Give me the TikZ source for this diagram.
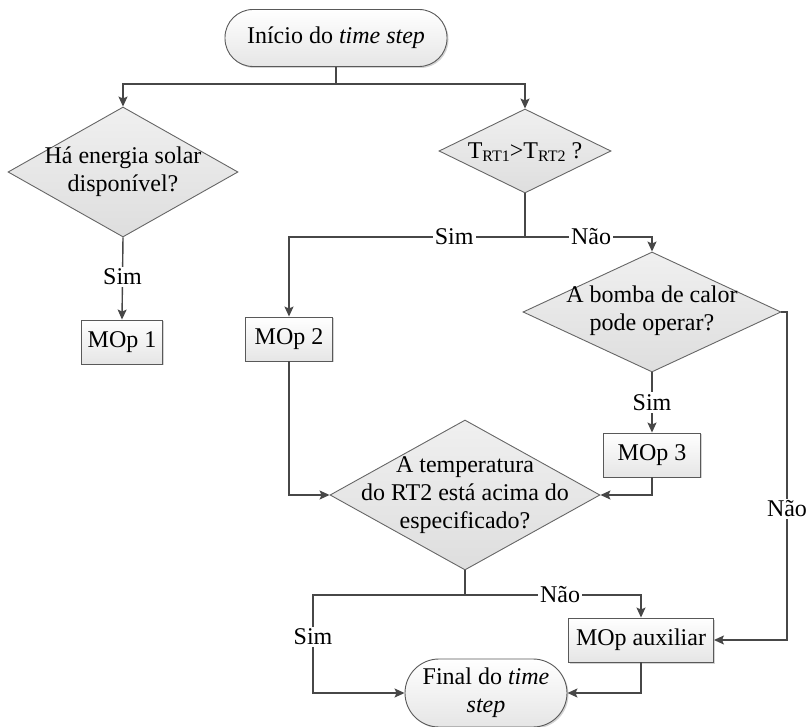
\documentclass[tikz,border=0pt]{standalone}
\usepackage{fontspec}
\setmainfont{Liberation Serif}
\usetikzlibrary{shapes.geometric,arrows.meta,shadows}
\begin{document}
\begin{tikzpicture}[x=1pt,y=-1pt,
  font=\fontsize{24}{28}\selectfont,
  line/.style={draw=black!72, line width=1.4pt},
  arr/.style={line, -{Stealth[length=10pt,width=9pt,inset=2pt]}},
  boxnode/.style={draw=black!65, line width=0.9pt, top color=white, bottom color=black!10,
    drop shadow={shadow xshift=1.5pt,shadow yshift=-1.5pt,opacity=0.35},
    minimum height=44, inner sep=0, align=center},
  dia/.style={diamond, draw=black!60, line width=0.9pt, top color=black!6, bottom color=black!13,
    inner sep=0},
  txt/.style={align=center, inner sep=0},
  lab/.style={fill=white, inner sep=2pt},
]
\useasboundingbox (0,0) rectangle (807,727);

% nodes
\node[boxnode, rounded corners=28pt, minimum width=222, minimum height=57] (start) at (336,38) {In\'icio do \textit{time step}};
\node[dia, minimum width=230, minimum height=130] (d1) at (123,172) {};
\node[txt] (d1t) at (123,172) {Há energia solar\\disponível?};
\node[dia, minimum width=172, minimum height=84] (d2) at (525,151) {};
\node[txt] (d2t) at (525,152) {T\raisebox{-0.35ex}{\fontsize{16}{16}\selectfont RT1}>T\raisebox{-0.35ex}{\fontsize{16}{16}\selectfont RT2} ?};
\node[boxnode, minimum width=81] (m1) at (122,342) {MOp 1};
\node[boxnode, minimum width=87] (m2) at (289,339) {MOp 2};
\node[dia, minimum width=258, minimum height=120] (d3) at (652,312) {};
\node[txt] (d3t) at (652,311) {A bomba de calor\\pode operar?};
\node[boxnode, minimum width=97] (m3) at (652,455) {MOp 3};
\node[dia, minimum width=270, minimum height=150] (d4) at (465,495) {};
\node[txt] (d4t) at (465,495) {A temperatura\\do RT2 está acima do\\especificado?};
\node[boxnode, minimum width=145] (aux) at (641,640) {MOp auxiliar};
\node[boxnode, rounded corners=34pt, minimum width=162, minimum height=68] (final) at (486,693) {Final do \textit{time}\\\textit{step}};

% junction coordinates
\coordinate (j1) at (336,84);
\coordinate (j2) at (525,237);
\coordinate (j3) at (465,595);
\coordinate (c1) at (313,595);
\coordinate (c2) at (787,312);

% connectors
\draw[line] (start.south) -- (j1);
\draw[arr] (j1) -| (d1.north);
\draw[arr] (j1) -| (d2.north);
\draw[arr] (d1.south) -- node[lab, pos=0.48] {Sim} (m1.north);
\draw[line] (d2.south) -- (j2);
\draw[arr] (j2) -| node[lab, pos=0.15] {Sim} (m2.north);
\draw[arr] (j2) -| node[lab, pos=0.26] {Não} (d3.north);
\draw[arr] (m2.south) |- (d4.west);
\draw[arr] (d3.south) -- node[lab, pos=0.5] {Sim} (m3.north);
\draw[arr] (m3.south) |- (d4.east);
\draw[arr] (d3.east) -- (c2) |- node[lab, pos=0.3] {Não} (aux.east);
\draw[line] (d4.south) -- (j3);
\draw[arr] (j3) -| node[lab, pos=0.27] {Não} (aux.north);
\draw[arr] (j3) -- (c1) -- node[lab, pos=0.43] {Sim} (c1 |- final.west) -- (final.west);
\draw[arr] (aux.south) |- (final.east);
\end{tikzpicture}
\end{document}
